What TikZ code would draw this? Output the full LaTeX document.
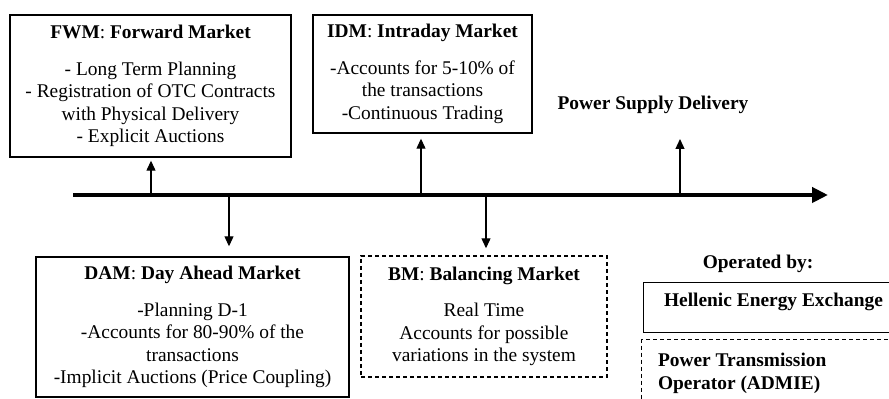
\documentclass[tikz,border=0pt]{standalone}
\usepackage{fontspec}
\setmainfont{Liberation Serif}
\usetikzlibrary{arrows.meta}

\begin{document}
\begin{tikzpicture}[x=0.5pt,y=-0.5pt,>={Triangle[length=5pt,width=4.5pt]},
  every node/.style={font=\fontsize{9.7}{11.25}\selectfont},
  mkt/.style={draw,line width=0.7pt,align=center,inner sep=0pt},
  dmkt/.style={mkt,dash pattern=on 2pt off 1.5pt},
  tick/.style={->,line width=0.6pt}]
\useasboundingbox (0,0) rectangle (889,399);
\clip (0,0) rectangle (889,399);
% Timeline
\draw[line width=2.3pt,-{Triangle[length=8pt,width=7.5pt]}] (73,195) -- (828,195);
\coordinate (tfwm) at (151,195);
\coordinate (tdam) at (229,195);
\coordinate (tidm) at (421,195);
\coordinate (tbm) at (486,195);
\coordinate (tpsd) at (680,195);
\coordinate (psdtip) at (680,139);

% Markets above the line
\node[mkt,minimum width=140.5pt,minimum height=71pt] (fwm) at (150.5,86)
  {\textbf{FWM}: \textbf{Forward Market}\\[7pt]
   - Long Term Planning\\ - Registration of OTC Contracts\\
   with Physical Delivery\\ - Explicit Auctions};
\node[mkt,minimum width=109.5pt,minimum height=59pt] (idm) at (422.5,74)
  {\textbf{IDM}: \textbf{Intraday Market}\\[7pt]
   -Accounts for 5-10\% of\\ the transactions\\ -Continuous Trading};
\node[font=\fontsize{9.7}{11.25}\selectfont\bfseries] (psd) at (653,105) {Power Supply Delivery};

% Markets below the line
\node[mkt,minimum width=156.5pt,minimum height=70pt] (dam) at (192.5,327)
  {\textbf{DAM}: \textbf{Day Ahead Market}\\[7pt]
   -Planning D-1\\ -Accounts for 80-90\% of the\\ transactions\\
   -Implicit Auctions (Price Coupling)};
\node[dmkt,minimum width=123pt,minimum height=60.5pt] (bm) at (484,316.5)
  {\textbf{BM}: \textbf{Balancing Market}\\[7pt]
   Real Time\\ Accounts for possible\\ variations in the system};

% Operators
\node[font=\fontsize{9.7}{11.25}\selectfont\bfseries] (opby) at (758,264) {Operated by:};
\node[mkt,anchor=north west,minimum width=150pt,minimum height=25pt] (henex) at (643,282) {};
\node[anchor=west,font=\fontsize{9.7}{11.25}\selectfont\bfseries] (henextxt) at (657,302)
  {Hellenic Energy Exchange};
\node[dmkt,anchor=north west,minimum width=150pt,minimum height=40pt] (admie) at (641,339) {};
\node[anchor=west,align=left,font=\fontsize{9.7}{11.5}\selectfont\bfseries] (admietxt) at (651,373.5)
  {Power Transmission\\ Operator (ADMIE)};

% Ticks
\draw[tick,shorten >=1.5pt] (tfwm) -- (tfwm |- fwm.south);
\draw[tick,shorten >=2.5pt] (tidm) -- (tidm |- idm.south);
\draw[tick] (tpsd) -- (psdtip);
\draw[tick,shorten >=5pt] (tdam) -- (tdam |- dam.north);
\draw[tick,shorten >=3.5pt] (tbm) -- (tbm |- bm.north);
\end{tikzpicture}
\end{document}
